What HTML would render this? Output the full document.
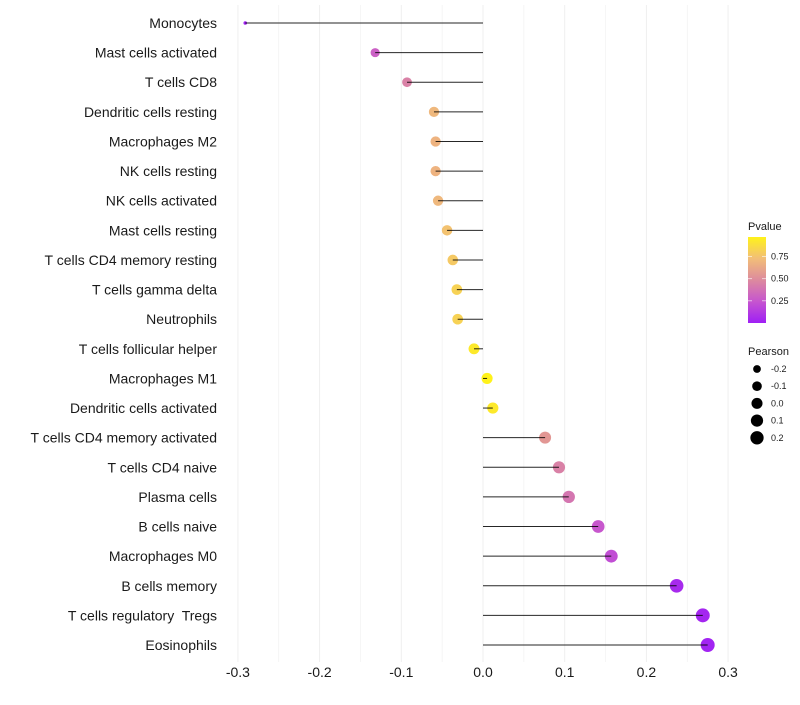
<!DOCTYPE html>
<html><head><meta charset="utf-8"><style>
body{margin:0;background:#fff;font-family:"Liberation Sans",sans-serif}
text{white-space:pre}
</style></head><body>
<svg id="chart" width="800" height="700" xmlns="http://www.w3.org/2000/svg" font-family="Liberation Sans, sans-serif">
<defs><linearGradient id="pg" x1="0" y1="1" x2="0" y2="0">
<stop offset="0" stop-color="#9F1FF5"/><stop offset="0.25" stop-color="#C655CF"/><stop offset="0.5" stop-color="#DD8A9E"/><stop offset="0.75" stop-color="#F2BE78"/><stop offset="1" stop-color="#FFF21A"/></linearGradient></defs>
<g id="grid"></g><g id="marks"></g><g id="ylabels"></g><g id="xlabels"></g>
<g>
<text x="748" y="230" font-size="11" fill="#1a1a1a">Pvalue</text>
<rect x="748" y="237" width="18" height="86" fill="url(#pg)"/>
<g id="cbticks"></g>
<text x="748" y="355" font-size="11" fill="#1a1a1a">Pearson</text>
<g id="sizeleg"></g>
</g>
</svg>
<script>
const categories=["Monocytes","Mast cells activated","T cells CD8","Dendritic cells resting","Macrophages M2","NK cells resting","NK cells activated","Mast cells resting","T cells CD4 memory resting","T cells gamma delta","Neutrophils","T cells follicular helper","Macrophages M1","Dendritic cells activated","T cells CD4 memory activated","T cells CD4 naive","Plasma cells","B cells naive","Macrophages M0","B cells memory","T cells regulatory  Tregs","Eosinophils"];
const pearson=[-0.291,-0.132,-0.093,-0.060,-0.058,-0.058,-0.055,-0.044,-0.037,-0.032,-0.031,-0.011,0.005,0.012,0.076,0.093,0.105,0.141,0.157,0.237,0.269,0.275];
const pvalue=[0.02,0.3,0.45,0.7,0.68,0.68,0.7,0.75,0.78,0.82,0.82,0.93,0.97,0.93,0.55,0.45,0.4,0.26,0.22,0.06,0.04,0.03];
const xTicks=[-0.3,-0.2,-0.1,0.0,0.1,0.2,0.3];
const xTickLabels=["-0.3","-0.2","-0.1","0.0","0.1","0.2","0.3"];
const cbTicks=[0.25,0.5,0.75];
const sizeLegend=[-0.2,-0.1,0.0,0.1,0.2];
const NS="http://www.w3.org/2000/svg";
const x=v=>483+v*817;
const y=i=>23+i*(622/21);
const pmin=0.01,pmax=0.97;
const cby=p=>322-(p-pmin)/(pmax-pmin)*85;
const vmin=Math.min(...pearson),vmax=Math.max(...pearson);
const rad=v=>1.8+5.2*Math.sqrt(Math.max(0,(v-vmin)/(vmax-vmin)));
const stops=[[0,[159,31,245]],[0.25,[198,85,207]],[0.5,[221,138,158]],[0.75,[242,190,120]],[1,[255,242,26]]];
function col(p){let t=Math.max(0,Math.min(1,(p-pmin)/(pmax-pmin)));for(let k=1;k<stops.length;k++){if(t<=stops[k][0]){const a=stops[k-1],b=stops[k],f=(t-a[0])/(b[0]-a[0]);return "rgb("+a[1].map((c,j)=>Math.round(c+(b[1][j]-c)*f)).join(",")+")";}}return "rgb(255,242,26)";}
function mk(t,attrs,parent){const e=document.createElementNS(NS,t);for(const k in attrs)e.setAttribute(k,attrs[k]);document.getElementById(parent).appendChild(e);return e;}
for(let v=-0.3;v<=0.301;v+=0.05){const g=mk("line",{x1:x(v),x2:x(v),y1:5,y2:662,stroke:"#efefef","stroke-width":Math.abs(Math.round(v*20))%2==0?1:0.6},"grid");

}
xTicks.forEach((v,i)=>{const t=mk("text",{x:x(v),y:677,"font-size":14,"text-anchor":"middle",fill:"#1a1a1a"},"xlabels");t.textContent=xTickLabels[i];

});
categories.forEach((c,i)=>{
const t=mk("text",{x:217,y:y(i)+5,"font-size":14,"text-anchor":"end",fill:"#1a1a1a"},"ylabels");t.textContent=c;


const d=mk("circle",{cx:x(pearson[i]),cy:y(i),r:rad(pearson[i]),fill:col(pvalue[i])},"marks");


const l=mk("line",{x1:x(0),x2:x(pearson[i]),y1:y(i),y2:y(i),stroke:"#000","stroke-width":1,"stroke-opacity":0.85},"marks");


});
cbTicks.forEach(p=>{const yy=cby(p);
const a=mk("line",{x1:748,x2:752,y1:yy,y2:yy,stroke:"#fff","stroke-opacity":0.6},"cbticks");


const b=mk("line",{x1:762,x2:766,y1:yy,y2:yy,stroke:"#fff","stroke-opacity":0.6},"cbticks");


const t=mk("text",{x:771,y:yy+3,"font-size":9,fill:"#1a1a1a"},"cbticks");t.textContent=p.toFixed(2);

});
sizeLegend.forEach((v,i)=>{const yy=369+i*17.2;
const c=mk("circle",{cx:757,cy:yy,r:rad(v),fill:"#000"},"sizeleg");


const t=mk("text",{x:771,y:yy+3,"font-size":9,fill:"#1a1a1a"},"sizeleg");t.textContent=v.toFixed(1);

});
</script>
</body></html>
